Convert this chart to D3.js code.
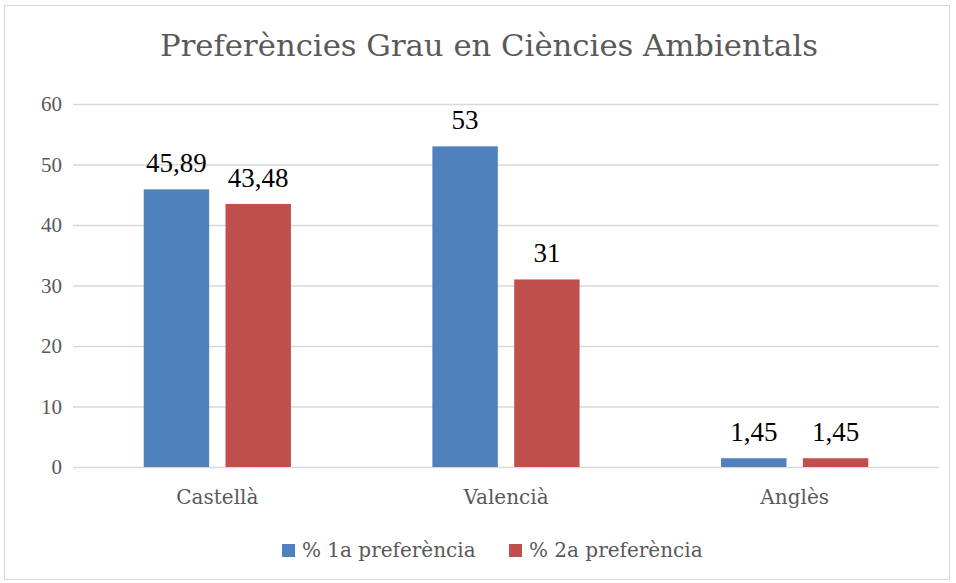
<!DOCTYPE html>
<html><head><meta charset="utf-8">
<script src="https://cdn.jsdelivr.net/npm/d3@7"></script>
<style>body{margin:0;background:#fff;}svg{display:block;}</style>
</head><body>
<svg id="chart" width="956" height="583"></svg>
<script>
const categories = ["Castellà", "Valencià", "Anglès"];
const seriesNames = ["% 1a preferència", "% 2a preferència"];
const serie1 = [45.89, 53, 1.45];
const serie2 = [43.48, 31, 1.45];
const labels1 = ["45,89", "53", "1,45"];
const labels2 = ["43,48", "31", "1,45"];
const yTicks = [0, 10, 20, 30, 40, 50, 60];
const colors = ["#4F81BD", "#C0504D"];

const svg = d3.select("#chart");
const serifT = "'Liberation Serif', serif";
const serifW = "'DejaVu Serif', serif";
svg.append("rect").attr("x", 4.5).attr("y", 5.5).attr("width", 945).attr("height", 574)
  .attr("fill", "#fff").attr("stroke", "#d9d9d9").attr("stroke-width", 1);

const pLeft = 73, pRight = 939, pTop = 104, pBottom = 467;
const y = d3.scaleLinear().domain([0, 60]).range([pBottom, pTop]);
const x0 = d3.scaleBand().domain(categories).range([pLeft, pRight]).paddingInner(0.49).paddingOuter(0.245);
const x1 = d3.scaleBand().domain([0, 1]).range([0, x0.bandwidth()]).paddingInner(0.2);

// grid
const yAxis = d3.axisLeft(y).tickValues(yTicks).tickSize(-(pRight - pLeft)).tickPadding(11);
const gy = svg.append("g").attr("transform", `translate(${pLeft},0)`).call(yAxis);
gy.select(".domain").remove();
gy.selectAll(".tick line").attr("stroke", "#d9d9d9").attr("stroke-width", 1.3);
gy.selectAll(".tick text").attr("fill", "#595959").style("font-family", serifT).style("font-size", "21px");

const data = categories.map((c, i) => ({c, v: [serie1[i], serie2[i]], l: [labels1[i], labels2[i]]}));
const g = svg.append("g").selectAll("g").data(data).join("g")
  .attr("transform", d => `translate(${x0(d.c)},0)`);
g.selectAll("rect").data(d => d.v.map((v, k) => ({v, k}))).join("rect")
  .attr("x", d => x1(d.k)).attr("width", x1.bandwidth())
  .attr("y", d => y(d.v)).attr("height", d => y(0) - y(d.v))
  .attr("fill", d => colors[d.k]);
g.selectAll("text").data(d => d.v.map((v, k) => ({v, k, l: d.l[k]}))).join("text")
  .attr("x", d => x1(d.k) + x1.bandwidth() / 2).attr("y", d => y(d.v) - 17)
  .attr("text-anchor", "middle").attr("fill", "#000")
  .style("font-family", serifT).style("font-size", "27px").text(d => d.l);

// x axis labels
const xAxis = d3.axisBottom(x0).tickSize(0).tickPadding(0);
const gx = svg.append("g").attr("transform", `translate(0,${pBottom})`).call(xAxis);
gx.select(".domain").remove();
gx.selectAll(".tick text").attr("y", 37).attr("dy", null)
  .attr("fill", "#595959").style("font-family", serifW).style("font-size", "20px");

// title
svg.append("text").attr("x", 489).attr("y", 56).attr("text-anchor", "middle")
  .attr("fill", "#595959").style("font-family", serifW).style("font-size", "29px")
  .attr("textLength", 658).attr("lengthAdjust", "spacingAndGlyphs")
  .text("Preferències Grau en Ciències Ambientals");

// legend
const legX = [282, 509];
const lg = svg.append("g").selectAll("g").data(seriesNames).join("g")
  .attr("transform", (d, i) => `translate(${legX[i]},557)`);
lg.append("rect").attr("x", 0).attr("y", -13).attr("width", 13).attr("height", 13).attr("fill", (d, i) => colors[i]);
lg.append("text").attr("x", 20).attr("y", 0).attr("fill", "#595959")
  .style("font-family", serifW).style("font-size", "20px").text(d => d);
</script>
</body></html>
